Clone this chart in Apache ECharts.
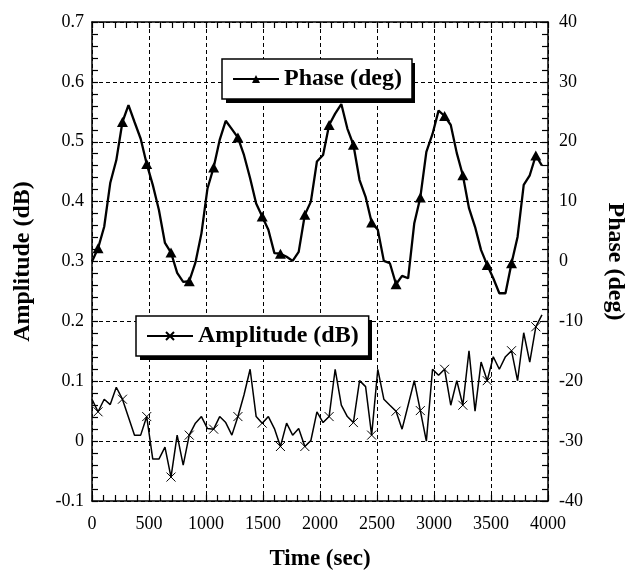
<!DOCTYPE html>
<html><head><meta charset="utf-8">
<script src="https://cdn.jsdelivr.net/npm/echarts@6/dist/echarts.min.js"></script>
<style>html,body{margin:0;padding:0;background:#fff}#c{width:629px;height:570px}</style>
</head><body><div id="c"></div>
<script>
const times = [0,53,107,160,213,267,320,373,427,480,533,587,640,693,747,800,853,907,960,1013,1067,1120,1173,1227,1280,1333,1387,1440,1493,1547,1600,1653,1707,1760,1813,1867,1920,1973,2027,2080,2133,2187,2240,2293,2347,2400,2453,2507,2560,2613,2667,2720,2773,2827,2880,2933,2987,3040,3093,3147,3200,3253,3307,3360,3413,3467,3520,3573,3627,3680,3733,3787,3840,3893,3947];
const amplitude = [0.070,0.049,0.070,0.061,0.090, 0.070,0.040,0.010,0.010,0.041, -0.030,-0.030,-0.010,-0.060,0.010, -0.040,0.010,0.030,0.041,0.021, 0.020,0.041,0.031,0.010,0.041, 0.077,0.120,0.041,0.030,0.041, 0.021,-0.009,0.030,0.010,0.021, -0.009,0.001,0.049,0.031,0.041, 0.120,0.060,0.041,0.031,0.101, 0.091,0.010,0.120,0.070,0.060, 0.050,0.020,0.060,0.101,0.051, 0.000,0.120,0.110,0.120,0.060, 0.101,0.060,0.151,0.050,0.132, 0.101,0.141,0.120,0.141,0.151, 0.101,0.181,0.132,0.191,0.211];
const phase = [0.0,2.2,5.8,13.1,16.9, 23.3,26.1,23.3,20.5,16.3, 12.8,8.6,3.1,1.5,-1.9, -3.4,-3.3,-0.2,4.7,12.2, 15.7,20.3,23.5,22.1,20.7, 17.8,13.9,9.7,7.5,5.3, 1.4,1.3,0.8,0.1,1.6, 7.8,10.0,16.7,17.8,22.8, 24.7,26.3,22.2,19.5,13.6, 10.8,6.5,5.3,0.1,-0.3, -3.8,-2.4,-2.8,6.4,10.7, 18.3,21.3,25.2,24.3,22.8, 18.1,14.4,8.9,5.8,1.9, -0.6,-2.8,-5.3,-5.3,-0.3, 4.1,12.8,14.4,17.7,16.0];
const markerIndex = [1,5,9,13,16,20,24,28,31,35,39,43,46,50,54,58,61,65,69,73];
const xTicks = [0,500,1000,1500,2000,2500,3000,3500,4000];
const ampTicks = [-0.1,0,0.1,0.2,0.3,0.4,0.5,0.6,0.7];
const phaseTicks = [-40,-30,-20,-10,0,10,20,30,40];

const FONT = 'Liberation Serif';
const black = '#000';
function mk(vals){
  return times.map((t,i)=> markerIndex.includes(i) ? {value:[t,vals[i]]} : {value:[t,vals[i]], symbol:'none'});
}
const tickLbl = {color:black, fontFamily:FONT, fontSize:18};
const axisLine = {show:true, onZero:false, lineStyle:{color:black, width:1.5}};
const dashed = {show:true, lineStyle:{color:black, type:[4,3], width:1}};
const tick = {show:true, inside:true, length:6, lineStyle:{color:black,width:1.2}};
const minor = {show:true, splitNumber:5, length:6, lineStyle:{color:black,width:1.2}};

// legend box geometry (decoration)
const L1 = {left:222, top:59, w:189, h:40};
const L2 = {left:136, top:316, w:232, h:40};
const SH = 4;

const legendBase = {orient:'horizontal', selectedMode:false, itemWidth:46, itemHeight:10,
  padding:[8,10,8,10], backgroundColor:'#fff', borderColor:black, borderWidth:1.5, z:101,
  textStyle:{color:black, fontFamily:FONT, fontWeight:'bold', fontSize:24, lineHeight:24}};

const chart = echarts.init(document.getElementById('c'), null, {renderer:'canvas'});
chart.setOption({
  animation:false,
  backgroundColor:'#fff',
  grid:{left:92, right:81, top:22, bottom:69, containLabel:false, outerBoundsMode:'none'},
  xAxis:[
    {type:'value', position:'bottom', min:xTicks[0], max:xTicks[xTicks.length-1], interval:xTicks[1]-xTicks[0],
     axisLine:axisLine, axisTick:tick, minorTick:minor,
     axisLabel:Object.assign({margin:14, formatter:v=>String(v)}, tickLbl), splitLine:dashed,
     name:'Time (sec)', nameLocation:'middle', nameGap:47,
     nameTextStyle:{color:black, fontFamily:FONT, fontWeight:'bold', fontSize:23}},
    {type:'value', position:'top', min:xTicks[0], max:xTicks[xTicks.length-1], interval:xTicks[1]-xTicks[0],
     axisLine:axisLine, axisTick:tick, minorTick:minor,
     axisLabel:{show:false}, splitLine:{show:false}}
  ],
  yAxis:[
    {type:'value', position:'left', min:ampTicks[0], max:ampTicks[ampTicks.length-1], interval:0.1,
     axisLine:axisLine, axisTick:tick, minorTick:minor,
     axisLabel:Object.assign({margin:8, formatter:v=>String(Math.round(v*10)/10)}, tickLbl), splitLine:dashed,
     name:'Amplitude (dB)', nameLocation:'middle', nameGap:57, nameRotate:90,
     nameTextStyle:{color:black, fontFamily:FONT, fontWeight:'bold', fontSize:24}},
    {type:'value', position:'right', min:phaseTicks[0], max:phaseTicks[phaseTicks.length-1], interval:10,
     axisLine:axisLine, axisTick:tick, minorTick:minor,
     axisLabel:Object.assign({margin:11}, tickLbl), splitLine:{show:false},
     name:'Phase (deg)', nameLocation:'middle', nameGap:55, nameRotate:-90,
     nameTextStyle:{color:black, fontFamily:FONT, fontWeight:'bold', fontSize:24}}
  ],
  graphic:{elements:[
    {type:'rect', z:100, silent:true, shape:{x:L1.left+SH, y:L1.top+SH, width:L1.w, height:L1.h}, style:{fill:black}},
    {type:'rect', z:100, silent:true, shape:{x:L2.left+SH, y:L2.top+SH, width:L2.w, height:L2.h}, style:{fill:black}}
  ]},
  legend:[
    Object.assign({data:['Phase (deg)'], left:L1.left, top:L1.top}, legendBase),
    Object.assign({data:['Amplitude (dB)'], left:L2.left, top:L2.top}, legendBase)
  ],
  series:[
    {name:'Phase (deg)', type:'line', xAxisIndex:0, yAxisIndex:1, data:mk(phase),
     symbol:'triangle', symbolSize:[11,10], showAllSymbol:true,
     lineStyle:{color:black, width:2.3}, itemStyle:{color:black}, emphasis:{disabled:true}},
    {name:'Amplitude (dB)', type:'line', xAxisIndex:0, yAxisIndex:0, data:mk(amplitude),
     symbol:'path://M0,0L10,10M10,0L0,10', symbolSize:9, showAllSymbol:true,
     lineStyle:{color:black, width:1.5}, itemStyle:{color:black, borderColor:black, borderWidth:1}, emphasis:{disabled:true}}
  ]
});
</script></body></html>
